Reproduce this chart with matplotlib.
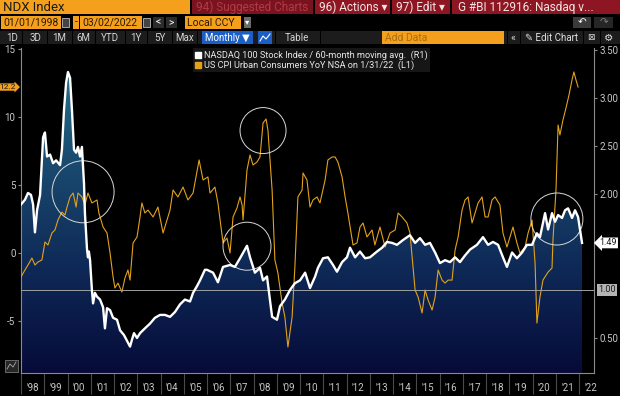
import numpy as np
import matplotlib.pyplot as plt
from matplotlib.patches import Rectangle, Polygon
from matplotlib.colors import LinearSegmentedColormap
from matplotlib.lines import Line2D

plt.rcParams['font.family'] = ['Roboto', 'DejaVu Sans']

# NASDAQ 100 / 60-month moving average (right axis)
ndx_dates = [1998.00, 1998.17, 1998.30, 1998.43, 1998.52, 1998.60, 1998.69, 1998.82, 1998.95,
             1999.03, 1999.12, 1999.25, 1999.38, 1999.51, 1999.68, 1999.76, 1999.85, 1999.94,
             2000.02, 2000.11, 2000.19, 2000.28, 2000.37, 2000.45, 2000.54, 2000.62, 2000.71,
             2000.75, 2000.84, 2000.88, 2000.92, 2000.97,
             2001.05, 2001.10, 2001.18, 2001.27, 2001.40, 2001.53, 2001.61, 2001.70, 2001.83, 2001.96,
             2002.13, 2002.26, 2002.43, 2002.60, 2002.69, 2002.77, 2002.86, 2002.99,
             2003.12, 2003.33, 2003.55, 2003.76, 2003.98,
             2004.19, 2004.41, 2004.62, 2004.84,
             2005.05, 2005.27, 2005.40, 2005.57, 2005.70, 2005.91,
             2006.00, 2006.26, 2006.47, 2006.69, 2006.99,
             2007.20, 2007.42, 2007.72, 2007.85,
             2008.06, 2008.28, 2008.41, 2008.58, 2008.80,
             2009.01, 2009.14, 2009.35, 2009.57, 2009.78,
             2010.00, 2010.22, 2010.43, 2010.65, 2010.77, 2010.99,
             2011.20, 2011.42, 2011.59, 2011.81,
             2012.02, 2012.15, 2012.37, 2012.58, 2012.80,
             2013.01, 2013.31, 2013.53, 2013.74, 2013.96,
             2014.17, 2014.43, 2014.73, 2014.95,
             2015.16, 2015.38, 2015.59, 2015.81,
             2016.02, 2016.24, 2016.45, 2016.67, 2016.88,
             2017.10, 2017.31, 2017.61, 2017.87,
             2018.09, 2018.30, 2018.52, 2018.73, 2018.90,
             2019.12, 2019.33, 2019.55, 2019.76, 2019.98,
             2020.19, 2020.32, 2020.54, 2020.67, 2020.84, 2020.97,
             2021.10, 2021.27, 2021.40, 2021.53, 2021.70, 2021.83, 2021.96,
             2022.13]
ndx_ratio = [1.89, 1.94, 2.01, 1.99, 1.89, 1.60, 1.83, 1.99, 2.59,
             2.64, 2.39, 2.41, 2.32, 2.35, 2.30, 2.46, 2.88, 3.16,
             3.27, 3.21, 2.88, 2.46, 2.43, 2.49, 2.39, 2.49, 2.11,
             1.80, 1.42, 1.34, 1.40, 1.31,
             1.00, 0.86, 0.97, 0.93, 0.90, 0.82, 0.60, 0.81, 0.79, 0.71,
             0.69, 0.58, 0.53, 0.45, 0.41, 0.48, 0.55, 0.50,
             0.55, 0.60, 0.65, 0.71, 0.74,
             0.74, 0.72, 0.77, 0.85,
             0.90, 0.88, 0.97, 1.04, 1.10, 1.21,
             1.21, 1.18, 1.08, 1.24, 1.26,
             1.24, 1.33, 1.46, 1.34,
             1.18, 1.23, 1.10, 1.14, 0.72,
             0.69, 0.83, 0.90, 1.00, 1.07,
             1.10, 1.18, 1.02, 1.14, 1.23, 1.33,
             1.34, 1.26, 1.19, 1.29,
             1.34, 1.44, 1.34, 1.40, 1.33,
             1.34, 1.40, 1.44, 1.50, 1.49,
             1.47, 1.52, 1.57, 1.49,
             1.54, 1.47, 1.49, 1.39,
             1.28, 1.31, 1.29, 1.34, 1.29,
             1.36, 1.42, 1.47, 1.55,
             1.47, 1.50, 1.47, 1.34, 1.24,
             1.39, 1.33, 1.39, 1.47, 1.47,
             1.59, 1.55, 1.80, 1.63, 1.80, 1.71,
             1.78, 1.75, 1.83, 1.85, 1.75, 1.83, 1.76,
             1.49]

# US CPI YoY (left axis), as plotted
cpi_dates = [1998.00, 1998.17, 1998.30, 1998.47, 1998.60, 1998.73, 1998.90,
             1999.03, 1999.16, 1999.33, 1999.46, 1999.59, 1999.76, 1999.89, 1999.98,
             2000.11, 2000.24, 2000.37, 2000.45, 2000.62, 2000.75, 2000.88,
             2001.05, 2001.27, 2001.35, 2001.53, 2001.70, 2001.83, 2001.96,
             2002.04, 2002.17, 2002.34, 2002.47, 2002.60, 2002.69, 2002.82, 2002.99,
             2003.12, 2003.20, 2003.33, 2003.46, 2003.68, 2003.89,
             2004.11, 2004.28, 2004.41, 2004.54, 2004.75, 2004.97,
             2005.18, 2005.40, 2005.66, 2005.83,
             2006.04, 2006.13, 2006.34, 2006.47, 2006.69, 2006.86, 2006.99,
             2007.12, 2007.29, 2007.42, 2007.51, 2007.55, 2007.72, 2007.85, 2007.98,
             2008.15, 2008.28, 2008.41, 2008.54, 2008.62, 2008.80, 2008.92,
             2009.05, 2009.23, 2009.35, 2009.48, 2009.66, 2009.78, 2009.91,
             2010.09, 2010.13, 2010.30, 2010.43, 2010.56, 2010.73, 2010.86,
             2011.08, 2011.20, 2011.38, 2011.51, 2011.63, 2011.81, 2011.94,
             2012.06, 2012.28, 2012.45, 2012.58, 2012.71, 2012.88,
             2013.10, 2013.22, 2013.44, 2013.66, 2013.87,
             2014.09, 2014.22, 2014.39, 2014.60, 2014.73, 2014.86, 2014.95,
             2015.08, 2015.25, 2015.38, 2015.51, 2015.68, 2015.81, 2015.94,
             2016.11, 2016.24, 2016.37, 2016.54, 2016.67, 2016.80, 2016.97,
             2017.10, 2017.23, 2017.40, 2017.53, 2017.66, 2017.83, 2017.96,
             2018.09, 2018.26, 2018.39, 2018.60, 2018.73, 2018.90,
             2019.03, 2019.16, 2019.33, 2019.46, 2019.68, 2019.81, 2019.98,
             2020.11, 2020.19, 2020.32, 2020.45, 2020.67, 2020.84, 2020.88,
             2021.01, 2021.10, 2021.18, 2021.31, 2021.44, 2021.57, 2021.70, 2021.78, 2021.87,
             2021.96]
cpi_yoy = [-1.76, -1.25, -0.88, -0.37, -0.88, -0.66, -0.51,
           0.81, 0.59, 1.47, 1.69, 2.43, 3.01, 2.79, 3.38,
           4.12, 4.41, 3.38, 4.41, 4.12, 3.53, 4.41,
           3.68, 3.90, 2.94, 1.91, 1.47, 0.00, -1.76,
           -2.57, -2.21, -2.87, -1.84, -1.25, -1.99, 0.74, 1.18,
           2.65, 3.68, 2.94, 3.16, 2.65, 3.38,
           1.47, 2.43, 3.16, 4.63, 4.12, 4.85,
           3.90, 4.41, 6.84, 5.37,
           5.59, 4.41, 4.85, 3.68, 0.74, 1.10, 0.00,
           2.65, 3.31, 4.12, 3.53, 2.43, 6.10, 7.21, 6.47,
           6.69, 7.06, 9.56, 9.85, 9.04, 4.63, -0.51,
           -1.47, -3.68, -4.71, -6.91, -4.71, -1.03, 4.12,
           4.63, 5.88, 5.37, 3.38, 3.90, 4.12, 3.68,
           5.37, 6.84, 7.06, 7.06, 6.69, 5.59, 4.12,
           2.94, 0.59, 0.74, 1.91, 2.21, 1.18,
           1.69, 0.59, 1.91, 0.44, 1.47,
           1.69, 2.94, 2.65, 2.21, 1.47, -1.03, -2.72,
           -3.24, -4.41, -2.72, -3.46, -4.19, -3.24, -1.25,
           -1.99, -2.21, -1.99, -1.99, 0.22, 1.18, 3.16,
           3.90, 4.12, 2.21, 2.94, 3.68, 4.12, 2.65,
           2.65, 3.90, 4.12, 3.53, 1.47, 0.44,
           1.18, 1.91, 0.74, 0.00, 0.44, 1.47, 2.43,
           -0.74, -5.15, -3.24, -1.99, -1.40, -1.10, 0.96,
           4.63, 9.41, 8.68, 9.78, 10.66, 11.62, 12.72, 13.31, 12.72,
           12.2]

years = list(range(1998, 2023))
year_labels = ["'%02d" % (y % 100) for y in years]
left_ticks = [-5, 0, 5, 10, 15]
right_ticks = [0.5, 2.0, 2.5, 3.0, 3.5]
ref_level = 1.0
# circled spots: (date, left-axis value, radius in px)
highlights = [(2000.67, 4.5, 31), (2008.41, 9.0, 23), (2007.72, 0.5, 24), (2021.05, 2.5, 26)]

ORANGE = '#f5a01c'
CPI_COLOR = '#e3a21a'
GREY = '#8a8a8a'
TXT = '#c8c8c8'

W, H = 620, 396
fig = plt.figure(figsize=(W / 100, H / 100), dpi=100, facecolor='black')


def box(x0, y0, x1, y1, fc, ec='none'):
    fig.patches.append(Rectangle((x0 / W, 1 - y1 / H), (x1 - x0) / W, (y1 - y0) / H,
                                 transform=fig.transFigure, fc=fc, ec=ec, lw=0.6))


def label(x, y, s, color, size, ha='left'):
    fig.text(x / W, 1 - y / H, s, color=color, fontsize=size, ha=ha, va='center')


# --- Bloomberg toolbar ---
box(0, 0, 190, 14, ORANGE)
label(3, 7.5, 'NDX Index', '#1a1a1a', 9.5)
box(192, 0, 313, 14, '#7a1320')
label(196, 7.5, '94) Suggested Charts', '#b23a44', 8.5)
box(315, 0, 390, 14, '#8e1622')
label(319, 7.5, '96) Actions \u25be', '#f2e4e4', 8.5)
box(392, 0, 450, 14, '#8e1622')
label(396, 7.5, '97) Edit \u25be', '#f2e4e4', 8.5)
box(452, 0, 620, 14, '#8e1622')
label(458, 7.5, 'G #BI 112916: Nasdaq v...', '#f2e4e4', 8.5)

box(1, 16, 61, 29, ORANGE)
label(3, 22.5, '01/01/1998', '#2a1800', 7.5)
box(62, 18, 69, 27, '#444444', ec='#bbbbbb')
box(73, 16, 79, 29, ORANGE)
label(76, 22.5, '-', '#2a1800', 7.5, ha='center')
box(80, 16, 142, 29, ORANGE)
label(82, 22.5, '03/02/2022', '#2a1800', 7.5)
box(143, 18, 150, 27, '#444444', ec='#bbbbbb')
box(153, 17, 164, 28, '#2c2c2c')
label(158.5, 22.5, '<', 'white', 7.5, ha='center')
box(166, 17, 177, 28, '#2c2c2c')
label(171.5, 22.5, '>', 'white', 7.5, ha='center')
box(185, 16, 241, 29, ORANGE)
label(187, 22.5, 'Local CCY', '#2a1800', 7.5)
box(244, 17, 251, 28, '#6a6a6a')
label(247.5, 22.5, '\u25be', 'white', 6, ha='center')
box(573, 17, 591, 28, '#3a3a3a')
label(582, 22.5, '\u21b6', 'white', 7.5, ha='center')
box(594, 17, 613, 28, '#262626')
label(603.5, 22.5, '\u21b7', '#808080', 7.5, ha='center')

box(0, 31, 620, 44, '#1c1c1c')
for sx in [22, 47, 72, 95, 125, 147, 172, 197, 275, 320, 507, 520, 583, 600]:
    box(sx, 31, sx + 1, 44, 'black')
for cx, s in zip([12, 35, 59, 83, 110, 136, 160, 185],
                 ['1D', '3D', '1M', '6M', 'YTD', '1Y', '5Y', 'Max']):
    label(cx, 38, s, '#d4d4d4', 7, ha='center')
box(202, 31, 253, 44, '#1b5fc6')
label(227.5, 38, 'Monthly \u25bc', 'white', 7, ha='center')
box(258, 31, 272, 44, '#1b5fc6')
fig.lines.append(Line2D(np.array([260, 263, 266, 270]) / W, 1 - np.array([41, 36, 39, 34]) / H,
                        transform=fig.transFigure, color='white', lw=0.8))
label(297, 38, 'Table', '#d4d4d4', 7, ha='center')
box(382, 31, 504, 44, ORANGE)
label(385, 38, 'Add Data', '#a66e10', 7.5)
label(513, 38, '\u00ab', '#d4d4d4', 7.5, ha='center')
label(552, 38, '\u270e Edit Chart', '#e0e0e0', 7, ha='center')
label(591, 38, '\u22a0', '#d4d4d4', 6.5, ha='center')
label(609, 38, '\u2699', '#e0e0e0', 7.5, ha='center')

# small chart icon bottom-left
box(5, 360, 18, 372, '#262626', ec='#777777')
fig.lines.append(Line2D(np.array([7, 10, 13, 16]) / W, 1 - np.array([369, 364, 367, 362]) / H,
                        transform=fig.transFigure, color='#aaaaaa', lw=0.6))

# --- chart ---
x0, x1 = 1998.0, 2022.645
yl0, yl1 = -8.82, 15.07
yr0, yr1 = 0.135, 3.52

ax = fig.add_axes([21 / W, 1 - 373 / H, 573 / W, 325 / H])
ax.set_facecolor('black')
ax2 = ax.twinx()

fill_cmap = LinearSegmentedColormap.from_list('ndxfill', ['#060b38', '#0f2a58', '#1a4c70', '#2b7890'])
grad = np.linspace(0, 1, 256).reshape(-1, 1)
img = ax.imshow(grad, cmap=fill_cmap, origin='lower', aspect='auto',
                extent=[x0, x1, yl0, yl1], zorder=1, interpolation='bicubic')
verts = [(ndx_dates[0], yr0)] + list(zip(ndx_dates, ndx_ratio)) + [(ndx_dates[-1], yr0)]
area = Polygon(verts, closed=True, transform=ax2.transData, fc='none', ec='none')
ax.add_patch(area)
img.set_clip_path(area)

ax.plot(cpi_dates, cpi_yoy, color=CPI_COLOR, lw=0.8, zorder=3)
for cx, cy, r in highlights:
    ax.scatter([cx], [cy], s=(2 * r * 0.72) ** 2, facecolors='none',
               edgecolors='#d8d8d8', linewidths=0.7, zorder=5)

ax2.axhline(ref_level, color='#a0a0a0', lw=0.7, zorder=2)
ax2.plot(ndx_dates, ndx_ratio, color='white', lw=1.7, zorder=4, solid_joinstyle='round')

ax.set_xlim(x0, x1)
ax.set_ylim(yl0, yl1)
ax2.set_ylim(yr0, yr1)

# axes styling
for a in (ax, ax2):
    a.spines['top'].set_visible(False)
ax.spines['right'].set_visible(False)
ax2.spines['left'].set_visible(False)
ax2.spines['bottom'].set_visible(False)
ax.spines['left'].set_color(GREY)
ax.spines['bottom'].set_color(GREY)
ax2.spines['right'].set_color(GREY)

ax.set_xticks(years)
ax.set_xticklabels([''] * len(years))
ax.set_xticks([y + 0.5 for y in years], minor=True)
ax.set_xticklabels(year_labels, minor=True)
ax.tick_params(axis='x', which='major', length=15, color='#4a4a4a', width=0.8)
ax.tick_params(axis='x', which='minor', length=0, pad=7.5, labelsize=7, labelcolor=TXT)

ax.set_yticks(left_ticks)
ax.set_yticklabels([str(v) for v in left_ticks])
ax.tick_params(axis='y', length=2.5, color=GREY, pad=1.5, labelsize=7, labelcolor=TXT)
ax2.set_yticks(right_ticks)
ax2.set_yticklabels(['%.2f' % v for v in right_ticks])
ax2.tick_params(axis='y', length=2.5, color=GREY, pad=1.5, labelsize=7, labelcolor=TXT)

# last-value tags
ax.annotate('%.1f' % cpi_yoy[-1], xy=(0, cpi_yoy[-1]), xycoords=('axes fraction', 'data'),
            xytext=(-3.5, 0), textcoords='offset points', ha='right', va='center',
            fontsize=6, color='#1a1a1a', annotation_clip=False,
            bbox=dict(boxstyle='rarrow,pad=0.08', fc=ORANGE, ec='none'))
ax2.annotate('%.2f' % ndx_ratio[-1], xy=(1, ndx_ratio[-1]), xycoords=('axes fraction', 'data'),
             xytext=(4, 0), textcoords='offset points', ha='left', va='center',
             fontsize=6.5, color='#1a1a1a', annotation_clip=False,
             bbox=dict(boxstyle='larrow,pad=0.1', fc='white', ec='none'))
ax2.annotate('%.2f' % ref_level, xy=(1, ref_level), xycoords=('axes fraction', 'data'),
             xytext=(3, 0), textcoords='offset points', ha='left', va='center',
             fontsize=6.5, color='#1a1a1a', annotation_clip=False,
             bbox=dict(boxstyle='square,pad=0.15', fc='#b4b4b4', ec='none'))

handles = [Line2D([], [], marker='s', ls='none', color='white', ms=3.8),
           Line2D([], [], marker='s', ls='none', color=CPI_COLOR, ms=3.8)]
leg = ax2.legend(handles, ['NASDAQ 100 Stock Index / 60-month moving avg.  (R1)',
                           'US CPI Urban Consumers YoY NSA on 1/31/22  (L1)'],
                 loc='upper left', bbox_to_anchor=(193 / W, 1 - 48 / H), bbox_transform=fig.transFigure,
                 fontsize=6.6, frameon=True, facecolor='#161616', edgecolor='none', framealpha=1,
                 handlelength=0.6, handletextpad=0.3, borderpad=0.25, labelspacing=0.05,
                 borderaxespad=0, fancybox=False)
for t in leg.get_texts():
    t.set_color('#e8e8e8')

fig.savefig('out.png', dpi=100, facecolor='black')
